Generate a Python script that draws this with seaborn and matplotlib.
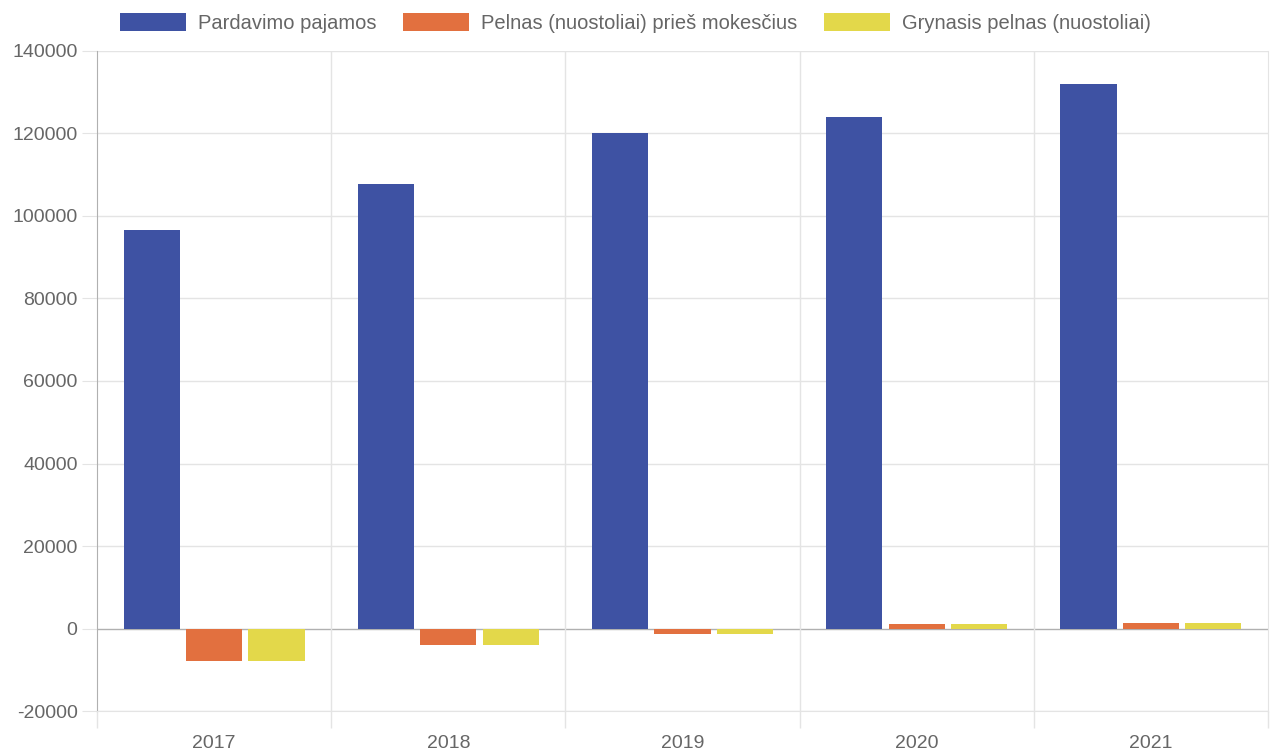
import matplotlib
matplotlib.use("Agg")
import matplotlib.pyplot as plt
import seaborn as sns
import pandas as pd
import numpy as np

# Datos
metai = ["2017", "2018", "2019", "2020", "2021"]
pardavimo_pajamos = [96600, 107800, 120100, 124000, 132000]
pelnas_pries_mokescius = [-7800, -4100, -1400, 1100, 1450]
grynasis_pelnas = [-7800, -4100, -1250, 1050, 1400]
serijos = ["Pardavimo pajamos", "Pelnas (nuostoliai) prieš mokesčius", "Grynasis pelnas (nuostoliai)"]
spalvos = ["#3e52a3", "#e2703f", "#e3d84a"]
y_ticks = [-20000, 0, 20000, 40000, 60000, 80000, 100000, 120000, 140000]

TEKSTAS = "#666666"
TINKLELIS = "#e4e4e4"

df = pd.DataFrame({
    "metai": metai * 3,
    "reiksme": pardavimo_pajamos + pelnas_pries_mokescius + grynasis_pelnas,
    "serija": [serijos[0]] * 5 + [serijos[1]] * 5 + [serijos[2]] * 5,
})

sns.set_style("white")
plt.rcParams["font.family"] = ["Liberation Sans", "DejaVu Sans"]

fig = plt.figure(figsize=(12.71, 7.54), dpi=100)
ax = fig.add_axes([0.0763, 0.057, 0.9213, 0.8754])

sns.barplot(data=df, x="metai", y="reiksme", hue="serija", hue_order=serijos,
            palette=spalvos, width=0.8, gap=0.1, saturation=1, errorbar=None,
            linewidth=0, ax=ax)

rankenos, etiketes = ax.get_legend_handles_labels()
ax.get_legend().remove()

ax.set_xlim(-0.5, 4.5)
ax.set_ylim(-20000, 140000)
ax.set_yticks(y_ticks)
ax.set_yticklabels([str(v) for v in y_ticks])
ax.set_xlabel("")
ax.set_ylabel("")

# Tinklelis kaip Chart.js
for v in y_ticks:
    ax.axhline(v, color="#b0b0b0" if v == 0 else TINKLELIS, linewidth=1, zorder=0)
ax.set_xticks(np.arange(-0.5, 5.0, 1.0), minor=True)
for x in np.arange(0.5, 4.5, 1.0):
    ax.axvline(x, color=TINKLELIS, linewidth=1, zorder=0)

ax.tick_params(axis="x", which="major", bottom=True, length=0, pad=17, labelsize=14, labelcolor=TEKSTAS)
ax.tick_params(axis="x", which="minor", bottom=True, length=12, color=TINKLELIS, width=1)
ax.tick_params(axis="y", which="major", left=True, length=11, color=TINKLELIS, pad=3, labelsize=14, labelcolor=TEKSTAS)

ax.spines["top"].set_visible(False)
ax.spines["left"].set_color("#b0b0b0")
ax.spines["bottom"].set_color(TINKLELIS)
ax.spines["right"].set_color(TINKLELIS)

fig.legend(rankenos, etiketes, loc="center", bbox_to_anchor=(0.5, 0.9695), ncol=3,
           frameon=False, fontsize=14.5, labelcolor=TEKSTAS, handlelength=3.3,
           handleheight=1.0, handletextpad=0.6, columnspacing=1.3)

fig.savefig("out.png", dpi=100)
